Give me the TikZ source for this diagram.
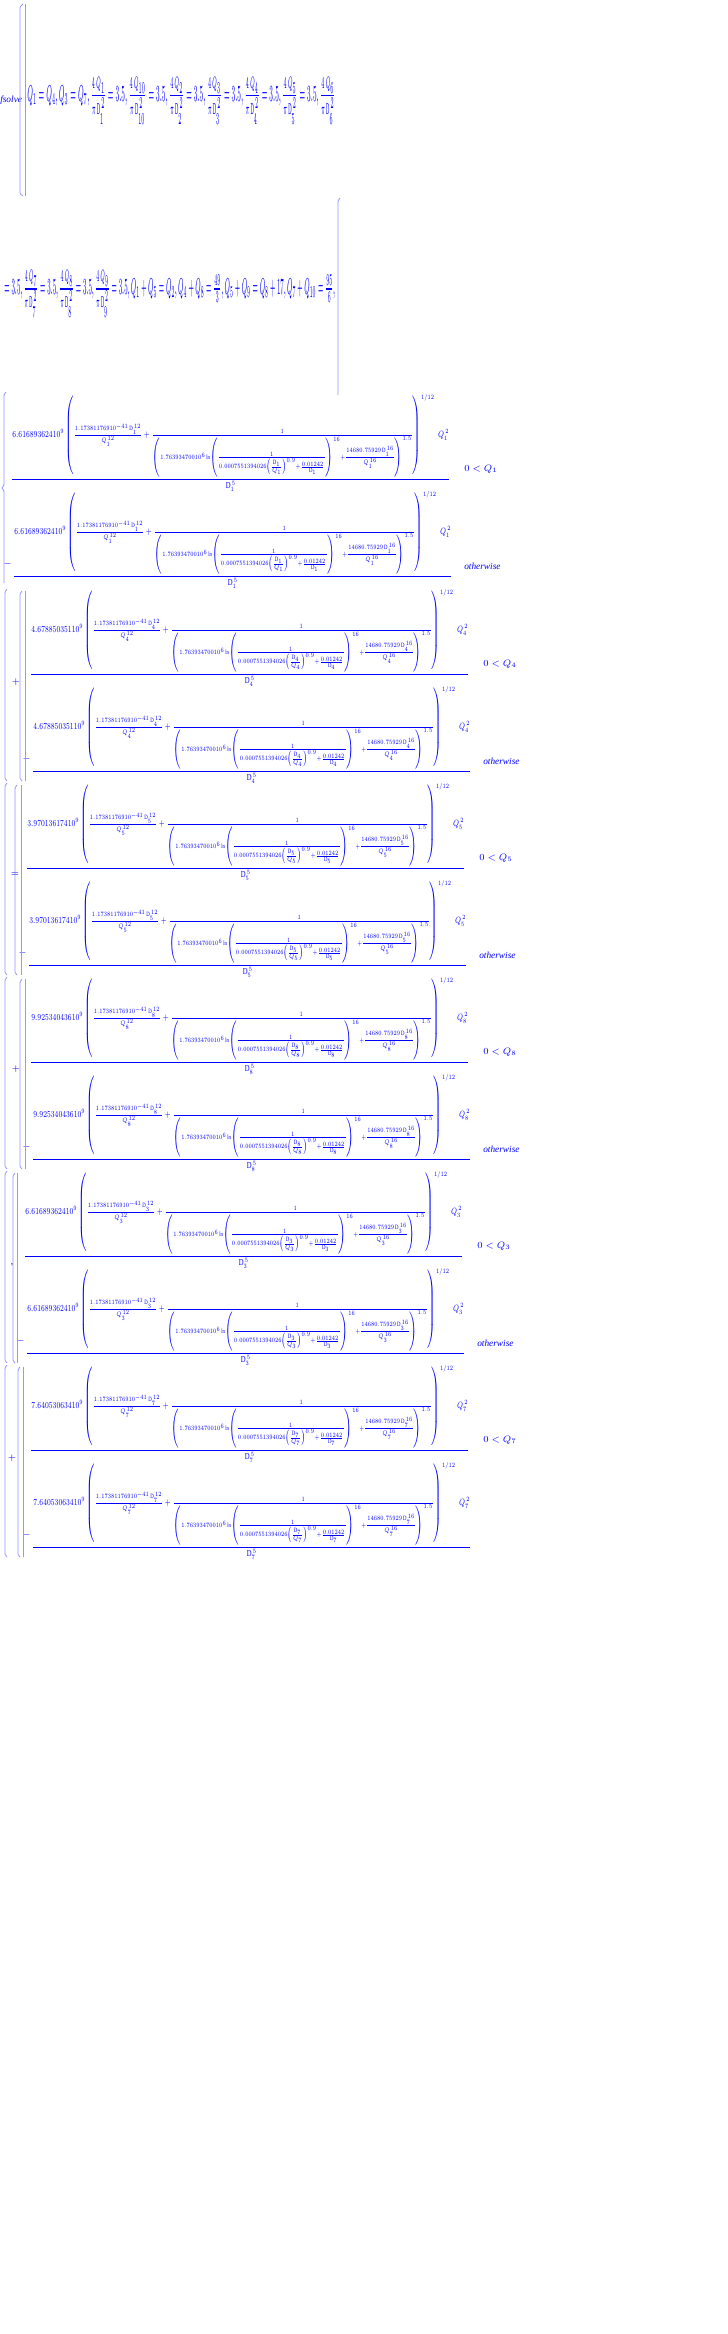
\documentclass[tikz,border=0pt]{standalone}
\usepackage{fontspec}
\setmainfont{Liberation Serif}
\usepackage{graphicx}
\definecolor{mbl}{RGB}{0,0,255}
\definecolor{brk}{RGB}{150,150,255}
\newcommand\Dim[1]{\dimexpr0.75pt*#1\relax}
\newcommand\PieceBody[2]{$\displaystyle \frac{#1\left(\frac{1.17381176910^{-41}\,\mathrm{D}_{#2}^{\,12}}{Q_{#2}^{\,12}}+\frac{1}{\left(1.76393470010^{6}\ln\left(\frac{1}{0.0007551394026\left(\frac{\mathrm{D}_{#2}}{Q_{#2}}\right)^{0.9}+\frac{0.01242}{\mathrm{D}_{#2}}}\right)^{16}+\frac{14680.75929\,\mathrm{D}_{#2}^{\,16}}{Q_{#2}^{\,16}}\right)^{1.5}}\right)^{1/12}\;Q_{#2}^{\,2}}{\mathrm{D}_{#2}^{\,5}}$}
% #1 name, #2 x, #3 fraction-line y, #4 width, #5 coef, #6 sub
\newcommand\PieceAt[6]{\node[anchor=north west,inner sep=0] (#1) at (#2,#3-73) {\resizebox{\Dim{#4}}{\Dim{87}}{\PieceBody{#5}{#6}}};}
% #1 name, #2 x0, #3 line y, #4 width, #5 coef, #6 sub, #7 show otherwise
\newcommand\Block[7]{%
 \PieceAt{#1a}{#2}{#3}{#4}{#5}{#6}
 \PieceAt{#1b}{#2+2}{#3+97}{#4}{#5}{#6}
 \node[anchor=east,inner sep=0] (#1m) at (#2+1,#3+97) {$-$};
 \node[anchor=west,inner sep=0] (#1c) at (#2+#4+14,#3+2) {$0<Q_{#6}$};
 \ifx#7y\node[anchor=west,inner sep=0] (#1o) at (#2+#4+14,#3+99) {\itshape otherwise};\fi
}
\begin{document}
\begin{tikzpicture}[x=0.75pt,y=-0.75pt,color=mbl,font=\fontsize{7}{8}\selectfont,
  br/.style={draw=brk,line width=0.6pt}]
\useasboundingbox[fill=white] (0,0) rectangle (728,2334);
% top line
\node[anchor=west,inner sep=0] (fs) at (0,100) {\itshape fsolve};
\draw[br] (23,4) .. controls (20,6) .. (20,12) -- (20,190) .. controls (20,194) .. (23,196);
\draw[br] (25,4) -- (25,196);
\node[anchor=west,inner sep=0] (l1) at (27,101) {\resizebox{\Dim{308}}{\Dim{24}}{$Q_1=Q_4,Q_3=Q_7,\frac{4\,Q_1}{\pi\,\mathrm{D}_1^{\,2}}=3.5,\frac{4\,Q_{10}}{\pi\,\mathrm{D}_{10}^{\,2}}=3.5,\frac{4\,Q_2}{\pi\,\mathrm{D}_2^{\,2}}=3.5,\frac{4\,Q_3}{\pi\,\mathrm{D}_3^{\,2}}=3.5,\frac{4\,Q_4}{\pi\,\mathrm{D}_4^{\,2}}=3.5,\frac{4\,Q_5}{\pi\,\mathrm{D}_5^{\,2}}=3.5,\frac{4\,Q_6}{\pi\,\mathrm{D}_6^{\,2}}$}};
\node[anchor=west,inner sep=0] (l2) at (4,294) {\resizebox{\Dim{331}}{\Dim{24}}{$=3.5,\frac{4\,Q_7}{\pi\,\mathrm{D}_7^{\,2}}=3.5,\frac{4\,Q_8}{\pi\,\mathrm{D}_8^{\,2}}=3.5,\frac{4\,Q_9}{\pi\,\mathrm{D}_9^{\,2}}=3.5,Q_1+Q_5=Q_2,Q_4+Q_8=\frac{49}{3},Q_5+Q_9=Q_8+17,Q_7+Q_{10}=\frac{95}{6},$}};
\draw[br] (340,198) .. controls (338,200) .. (338,206) -- (338,395);
% blocks
\Block{b1}{11}{467}{439}{6.61689362410^{9}}{1}{y}
\Block{b4}{30}{662}{439}{4.67885035110^{9}}{4}{y}
\Block{b5}{26}{856}{439}{3.97013617410^{9}}{5}{y}
\Block{b8}{30}{1050}{439}{9.92534043610^{9}}{8}{y}
\Block{b3}{24}{1244}{439}{6.61689362410^{9}}{3}{y}
\Block{b7}{30}{1438}{439}{7.64053063410^{9}}{7}{n}
% brackets
\draw[br] (6,392) .. controls (4,394) .. (4,400) -- (4,480) .. controls (4,486) .. (2,488) .. controls (4,490) .. (4,496) -- (4,583);
\foreach \t/\xa/\xb in {589/20/25,783/15/21,977/20/25,1171/13/17,1365/18/23}{
  \draw[br] (7,\t) .. controls (5,\t+2) .. (5,\t+8) -- (5,\t+186) .. controls (5,\t+190) .. (7,\t+192);
  \draw[br] (\xa+2,\t+2) .. controls (\xa,\t+4) .. (\xa,\t+10) -- (\xa,\t+186) .. controls (\xa,\t+190) .. (\xa+2,\t+192);
  \draw[br] (\xb,\t+2) -- (\xb,\t+192);
}
% operators
\node (op1) at (16,682) {$+$};
\node (op2) at (15,875) {$=$};
\node (op3) at (16,1069) {$+$};
\node (op4) at (12,1265) {,};
\node (op5) at (12,1458) {$+$};
\end{tikzpicture}
\end{document}
